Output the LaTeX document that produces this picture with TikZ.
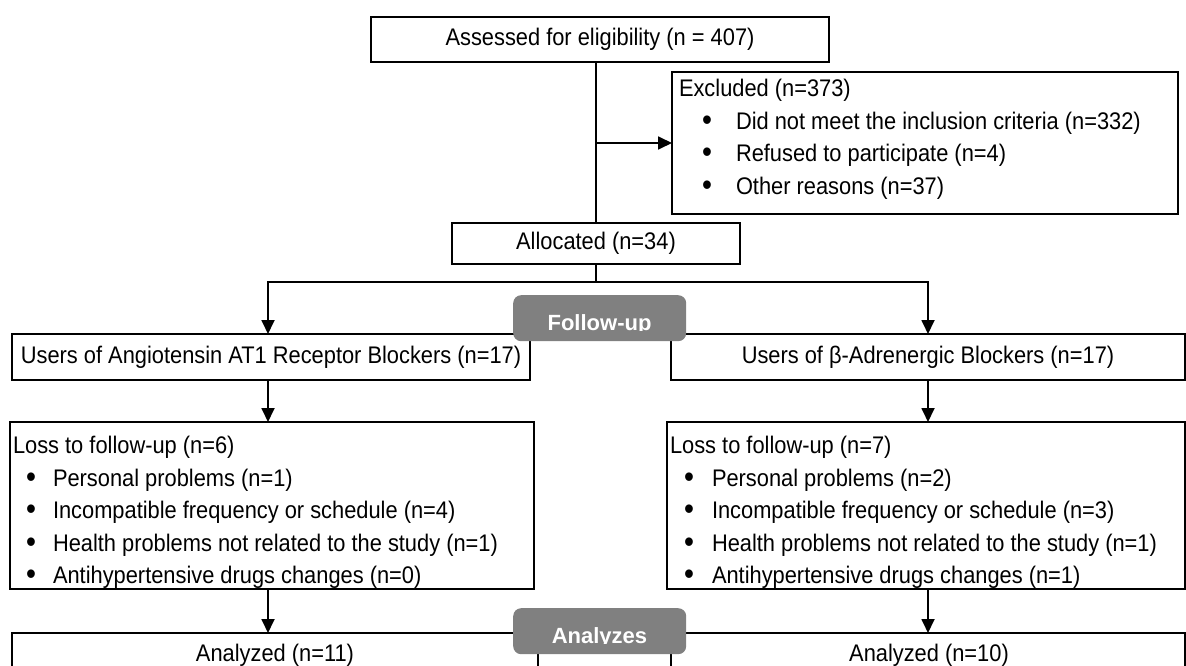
\documentclass[tikz,border=0pt]{standalone}
\usepackage{fontspec}
\setmainfont{Liberation Sans}[FakeStretch=0.91]
\newfontfamily\lblfont{Liberation Sans}
\usetikzlibrary{arrows.meta}
\definecolor{lblgrey}{HTML}{808080}
\newcommand{\bigdot}{\raisebox{-0.8pt}{\scalebox{1.3}{\textbullet}}}
\begin{document}
\begin{tikzpicture}[x=1pt,y=-1pt,
  box/.style={draw=black, line width=1.8pt, inner sep=0pt, outer sep=0pt, anchor=north west, fill=white},
  txt/.style={font=\fontsize{24}{32.5}\selectfont, inner sep=0pt, outer sep=0pt},
  ln/.style={line width=1.8pt},
  arr/.style={line width=1.8pt, -{Triangle[length=14pt,width=13pt]}},
  lbl/.style={fill=lblgrey, draw=none, rounded corners=8pt, inner sep=0pt, anchor=north west},
  lbltxt/.style={text=white, font=\lblfont\bfseries\fontsize{22}{26}\selectfont, inner sep=0pt, anchor=base}
]
\useasboundingbox (0,0) rectangle (1186,666);
\clip (0,0) rectangle (1186,666);

% boxes
\node[box, minimum width=458pt, minimum height=45pt] (top) at (371,17) {};
\node[txt] (toptxt) at (top.center) {Assessed for eligibility (n = 407)};

\node[box, minimum width=506pt, minimum height=142pt] (excl) at (672,72) {};
\node[txt, anchor=north west, align=left] (excltxt) at (679,79.5) {Excluded (n=373)\\
\makebox[57pt][l]{\hspace{23pt}\bigdot}Did not meet the inclusion criteria (n=332)\\
\makebox[57pt][l]{\hspace{23pt}\bigdot}Refused to participate (n=4)\\
\makebox[57pt][l]{\hspace{23pt}\bigdot}Other reasons (n=37)};

\node[box, minimum width=288pt, minimum height=41pt] (alloc) at (452,223) {};
\node[txt] (alloctxt) at (alloc.center) {Allocated (n=34)};

\node[box, minimum width=518pt, minimum height=46pt] (usersL) at (12,334) {};
\node[txt] (usersLtxt) at (usersL.center) {Users of Angiotensin AT1 Receptor Blockers (n=17)};

\node[box, minimum width=514pt, minimum height=46pt] (usersR) at (671,334) {};
\node[txt] (usersRtxt) at (usersR.center) {Users of β-Adrenergic Blockers (n=17)};

\node[box, minimum width=524pt, minimum height=167pt] (lossL) at (10,422) {};
\begin{scope}
\clip (lossL.north west) rectangle (lossL.south east);
\node[txt, anchor=north west, align=left] (lossLtxt) at (13,436.5) {Loss to follow-up (n=6)\\
\makebox[40pt][l]{\hspace{13pt}\bigdot}Personal problems (n=1)\\
\makebox[40pt][l]{\hspace{13pt}\bigdot}Incompatible frequency or schedule (n=4)\\
\makebox[40pt][l]{\hspace{13pt}\bigdot}Health problems not related to the study (n=1)\\
\makebox[40pt][l]{\hspace{13pt}\bigdot}Antihypertensive drugs changes (n=0)};
\end{scope}

\node[box, minimum width=518pt, minimum height=167pt] (lossR) at (667,422) {};
\begin{scope}
\clip (lossR.north west) rectangle (lossR.south east);
\node[txt, anchor=north west, align=left] (lossRtxt) at (670,436.5) {Loss to follow-up (n=7)\\
\makebox[42pt][l]{\hspace{14pt}\bigdot}Personal problems (n=2)\\
\makebox[42pt][l]{\hspace{14pt}\bigdot}Incompatible frequency or schedule (n=3)\\
\makebox[42pt][l]{\hspace{14pt}\bigdot}Health problems not related to the study (n=1)\\
\makebox[42pt][l]{\hspace{14pt}\bigdot}Antihypertensive drugs changes (n=1)};
\end{scope}

\node[box, minimum width=526pt, minimum height=60pt] (anaL) at (12,633) {};
\node[txt, anchor=base] (anaLtxt) at (275,661) {Analyzed (n=11)};

\node[box, minimum width=514pt, minimum height=60pt] (anaR) at (671,633) {};
\node[txt, anchor=base] (anaRtxt) at (929,661) {Analyzed (n=10)};

% connectors
\coordinate (split) at (alloc.south |- 0,282);
\coordinate (colL) at (268,0);
\coordinate (colR) at (928,0);
\draw[ln] (alloc.north |- top.south) -- (alloc.north);
\draw[arr] (excl.west -| alloc.north) -- (excl.west);
\draw[ln] (alloc.south) -- (split);
\draw[arr] (split) -| (colL |- usersL.north);
\draw[arr] (split) -| (colR |- usersR.north);
\draw[arr] (colL |- usersL.south) -- (colL |- lossL.north);
\draw[arr] (colR |- usersR.south) -- (colR |- lossR.north);
\draw[arr] (colL |- lossL.south) -- (colL |- anaL.north);
\draw[arr] (colR |- lossR.south) -- (colR |- anaR.north);

% grey stage labels
\node[lbl, minimum width=173pt, minimum height=46pt] (fu) at (513,295) {};
\begin{scope}
\clip (513,295) rectangle (686,330.5);
\node[lbltxt] (futxt) at (599.5,330) {Follow-up};
\end{scope}
\node[lbl, minimum width=173pt, minimum height=46pt] (an) at (513,608) {};
\begin{scope}
\clip (513,608) rectangle (686,643.5);
\node[lbltxt] (antxt) at (599.5,643) {Analyzes};
\end{scope}
\end{tikzpicture}
\end{document}
